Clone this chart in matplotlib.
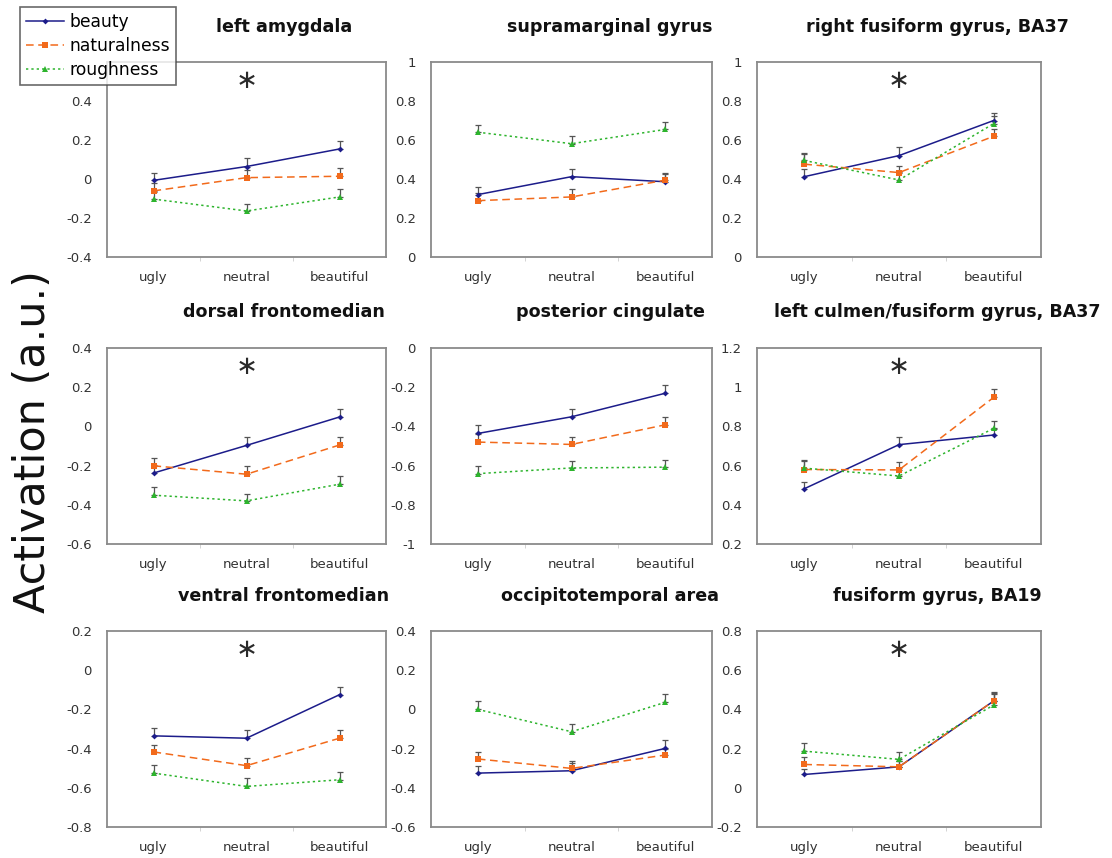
import matplotlib
matplotlib.use("Agg")
import matplotlib.pyplot as plt
from matplotlib.lines import Line2D
import numpy as np

plt.rcParams['font.family'] = ['DejaVu Sans']

categories = ["ugly", "neutral", "beautiful"]
series_names = ["beauty", "naturalness", "roughness"]

titles = ["left amygdala", "supramarginal gyrus", "right fusiform gyrus, BA37",
          "dorsal frontomedian", "posterior cingulate", "left culmen/fusiform gyrus, BA37",
          "ventral frontomedian", "occipitotemporal area", "fusiform gyrus, BA19"]

ylims = [(-0.4, 0.6), (0, 1), (0, 1),
         (-0.6, 0.4), (-1, 0), (0.2, 1.2),
         (-0.8, 0.2), (-0.6, 0.4), (-0.2, 0.8)]
# highest labelled tick (the first panel's top label is hidden under the legend)
ytick_tops = [0.4, 1, 1, 0.4, 0, 1.2, 0.2, 0.4, 0.8]

significant = [True, False, True, True, False, True, True, False, True]

beauty = [[-0.007, 0.064, 0.154], [0.320, 0.412, 0.386], [0.412, 0.520, 0.700],
          [-0.238, -0.097, 0.048], [-0.436, -0.351, -0.231], [0.482, 0.707, 0.756],
          [-0.335, -0.347, -0.125], [-0.325, -0.313, -0.199], [0.068, 0.107, 0.443]]
naturalness = [[-0.061, 0.007, 0.014], [0.289, 0.308, 0.394], [0.476, 0.433, 0.619],
               [-0.201, -0.244, -0.095], [-0.480, -0.492, -0.392], [0.580, 0.578, 0.948],
               [-0.417, -0.487, -0.347], [-0.253, -0.301, -0.233], [0.119, 0.107, 0.443]]
roughness = [[-0.103, -0.164, -0.092], [0.640, 0.581, 0.654], [0.495, 0.395, 0.684],
             [-0.351, -0.380, -0.295], [-0.641, -0.612, -0.608], [0.587, 0.547, 0.790],
             [-0.525, -0.593, -0.559], [0.000, -0.114, 0.036], [0.187, 0.145, 0.422]]

beauty_err = [[0.040, 0.043, 0.040], [0.040, 0.038, 0.043], [0.038, 0.042, 0.039],
              [0.040, 0.041, 0.042], [0.041, 0.041, 0.041], [0.036, 0.040, 0.030],
              [0.039, 0.041, 0.041], [0.038, 0.040, 0.043], [0.030, 0.030, 0.044]]
naturalness_err = [[0.040, 0.040, 0.042], [0.040, 0.040, 0.031], [0.050, 0.036, 0.039],
                   [0.039, 0.040, 0.039], [0.040, 0.038, 0.039], [0.048, 0.038, 0.041],
                   [0.036, 0.039, 0.041], [0.037, 0.039, 0.030], [0.039, 0.030, 0.040]]
roughness_err = [[0.035, 0.035, 0.043], [0.036, 0.038, 0.040], [0.040, 0.040, 0.040],
                 [0.043, 0.036, 0.041], [0.039, 0.036, 0.037], [0.035, 0.040, 0.040],
                 [0.041, 0.041, 0.041], [0.043, 0.039, 0.042], [0.043, 0.039, 0.057]]

colors = ["#1c1c8a", "#f26a1b", "#2db42d"]
linestyles = ["-", (0, (5, 3)), (0, (1.5, 2))]
markers = ["D", "s", "^"]
msizes = [3.0, 4.0, 4.0]

W, H = 1112, 858
fig = plt.figure(figsize=(W / 100, H / 100), dpi=100)

col_x = [(107, 386), (431, 712), (757, 1041)]
row_y = [(62, 257), (348, 544), (631, 827)]
title_x = [284, 610, 937]
title_y = [27, 312, 596]

def fmt(v):
    v = round(v, 2)
    if abs(v) < 1e-9:
        return "0"
    return f"{v:g}"

x = np.arange(1, 4)
for i in range(9):
    r, c = divmod(i, 3)
    x0, x1 = col_x[c]
    yt, yb = row_y[r]
    ax = fig.add_axes([x0 / W, 1 - yb / H, (x1 - x0) / W, (yb - yt) / H])
    data = [beauty[i], naturalness[i], roughness[i]]
    errs = [beauty_err[i], naturalness_err[i], roughness_err[i]]
    for k in range(3):
        ax.errorbar(x, data[k], yerr=[np.zeros(3), errs[k]], fmt='none',
                    ecolor="#555555", elinewidth=0.9, capsize=2.5, capthick=0.9, zorder=2)
    for k in range(3):
        ax.plot(x, data[k], color=colors[k], linestyle=linestyles[k], linewidth=1.1,
                marker=markers[k], markersize=msizes[k], markeredgewidth=0, zorder=3)
    lo, hi = ylims[i]
    ax.set_xlim(0.5, 3.5)
    ax.set_ylim(lo, hi)
    ticks = np.round(np.arange(lo, ytick_tops[i] + 1e-9, 0.2), 2)
    ax.set_yticks(ticks)
    ax.set_yticklabels([fmt(t) for t in ticks], fontsize=9.5, color="#333333")
    ax.set_xticks(x)
    ax.set_xticklabels(categories, fontsize=9.5, color="#333333")
    ax.set_xticks([1.5, 2.5], minor=True)
    ax.tick_params(axis='y', length=0, pad=11)
    ax.tick_params(axis='x', which='major', length=0, pad=10)
    ax.tick_params(axis='x', which='minor', length=3, color="#cccccc", direction='out')
    for sp in ax.spines.values():
        sp.set_color("#8a8a8a")
        sp.set_linewidth(1.3)
    if significant[i]:
        ax.text(2.0, hi - 0.095 * (hi - lo), "\u2217", ha='center', va='center',
                fontsize=19, color="#2a2a2a", fontfamily='DejaVu Sans')
    fig.text(title_x[c] / W, 1 - title_y[r] / H, titles[i], ha='center', va='center',
             fontsize=12.6, fontweight='bold', color="#111111")

fig.text(33 / W, 1 - 442 / H, "Activation (a.u.)", rotation=90, ha='center', va='center',
         fontsize=31, color="#111111")

handles = [Line2D([0], [0], color=colors[k], linestyle=linestyles[k], linewidth=1.1,
                  marker=markers[k], markersize=msizes[k], markeredgewidth=0)
           for k in range(3)]
leg = fig.legend(handles, series_names, loc='upper left',
                 bbox_to_anchor=(20 / W, 1 - 7 / H), fontsize=12.3, frameon=True,
                 fancybox=False, edgecolor="#444444", handlelength=2.2,
                 borderpad=0.35, labelspacing=0.34, handletextpad=0.35, borderaxespad=0)
leg.get_frame().set_linewidth(1.2)
leg.set_zorder(10)

fig.savefig("out.png", dpi=100, facecolor="white")
